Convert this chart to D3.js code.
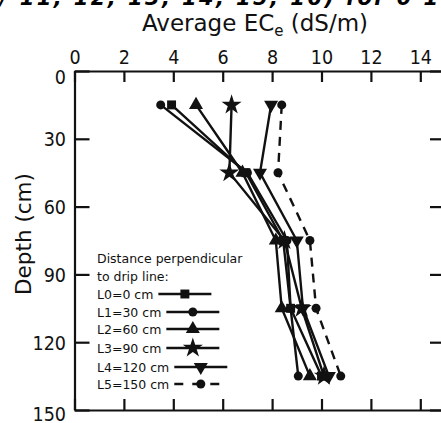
<!DOCTYPE html>
<html>
<head>
<meta charset="utf-8">
<script src="https://cdn.jsdelivr.net/npm/d3@7"></script>
<style>
  body { margin: 0; background: #fff; }
  svg { display: block; }
  .lab { font-family: "DejaVu Sans Condensed", "DejaVu Sans", sans-serif; fill: #111; }
  .leg { font-family: "DejaVu Sans", sans-serif; fill: #111; font-size: 12.5px; }
</style>
</head>
<body>
<script>
// chart data
const depths = [15, 45, 75, 105, 135];
const seriesNames = ["L0=0 cm", "L1=30 cm", "L2=60 cm", "L3=90 cm", "L4=120 cm", "L5=150 cm"];
const L0 = [3.93, 6.94, 8.45, 8.75, 10.0];
const L1 = [3.49, 7.0, 8.6, 8.75, 9.06];
const L2 = [4.92, 6.8, 8.15, 8.39, 9.53];
const L3 = [6.36, 6.27, 8.5, 9.2, 10.1];
const L4 = [7.96, 7.51, 9.0, 9.25, 10.3];
const L5 = [8.39, 8.24, 9.53, 9.78, 10.78];
const xTicks = [0, 2, 4, 6, 8, 10, 12, 14];
const yTicks = [0, 30, 60, 90, 120, 150];

const width = 441;
const height = 423;
const margin = { top: 71, left: 74.5 };
const innerWidth = 370.5;
const innerHeight = 339;

const svg = d3.select("body").append("svg")
  .attr("width", width)
  .attr("height", height);

// cut-off heading from the page above
svg.append("text")
  .attr("x", 0)
  .attr("y", 4.5)
  .attr("textLength", 438)
  .style("font-family", "DejaVu Sans, sans-serif")
  .style("font-size", "21px")
  .style("font-weight", "bold")
  .style("font-style", "italic")
  .text("/ 11, 12, 13, 14, 15, 16) for 0 1");

const g = svg.append("g")
  .attr("transform", `translate(${margin.left},${margin.top})`);

const x = d3.scaleLinear().domain([0, 15]).range([0, innerWidth]);
const y = d3.scaleLinear().domain([0, 150]).range([0, innerHeight]);

// axes
const topAxis = g.append("g")
  .call(d3.axisTop(x).tickValues(xTicks).tickSizeInner(-11).tickSizeOuter(0).tickPadding(7));
const bottomAxis = g.append("g")
  .attr("transform", `translate(0,${innerHeight})`)
  .call(d3.axisBottom(x).tickValues(xTicks).tickSizeInner(-11).tickSizeOuter(0).tickFormat(""));
const leftAxis = g.append("g")
  .call(d3.axisLeft(y).tickValues(yTicks).tickSizeInner(-15).tickSizeOuter(0).tickPadding(8.5));
const rightAxis = g.append("g")
  .attr("transform", `translate(${innerWidth},0)`)
  .call(d3.axisRight(y).tickValues(yTicks).tickSizeInner(-15).tickSizeOuter(0).tickFormat(""));

[topAxis, bottomAxis, leftAxis, rightAxis].forEach((a) => {
  a.selectAll(".domain").attr("stroke", "#111").attr("stroke-width", 2.2);
  a.selectAll(".tick line").attr("stroke", "#111").attr("stroke-width", 2.2);
  a.selectAll(".tick text")
    .attr("class", "lab")
    .style("font-size", "19.5px")
    .attr("fill", "#111");
});
leftAxis.selectAll(".tick text")
  .attr("dy", "0.36em")
  .attr("y", (d) => (d === 0 ? 5 : d === 150 ? 3 : 0));

// axis titles
const title = svg.append("text")
  .attr("class", "leg")
  .attr("x", 255)
  .attr("y", 31)
  .attr("text-anchor", "middle")
  .style("font-size", "23px");
title.append("tspan").text("Average EC");
title.append("tspan").attr("dy", 5).style("font-size", "15px").text("e");
title.append("tspan").attr("dy", -5).text(" (dS/m)");

svg.append("text")
  .attr("class", "leg")
  .attr("transform", "translate(31,234) rotate(-90)")
  .attr("text-anchor", "middle")
  .style("font-size", "21.5px")
  .text("Depth (cm)");

// series
const allSeries = [L0, L1, L2, L3, L4, L5];
const symbols = [
  { type: d3.symbolSquare, size: 80, rot: 0 },
  { type: d3.symbolCircle, size: 64, rot: 0 },
  { type: d3.symbolTriangle, size: 85, rot: 0 },
  { type: d3.symbolStar, size: 125, rot: 0 },
  { type: d3.symbolTriangle, size: 85, rot: 180 },
  { type: d3.symbolCircle, size: 64, rot: 0 }
];

const line = d3.line()
  .x((d) => x(d.v))
  .y((d) => y(d.depth));

allSeries.forEach((vals, i) => {
  const pts = vals.map((v, j) => ({ v: v, depth: depths[j] }));
  g.append("path")
    .datum(pts)
    .attr("d", line)
    .attr("fill", "none")
    .attr("stroke", "#111")
    .attr("stroke-width", 2.4)
    .attr("stroke-dasharray", i === 5 ? "9,7" : null);
  g.selectAll(".m" + i)
    .data(pts)
    .enter()
    .append("path")
    .attr("class", "m" + i)
    .attr("d", d3.symbol().type(symbols[i].type).size(symbols[i].size))
    .attr("transform", (d) => `translate(${x(d.v)},${y(d.depth)}) rotate(${symbols[i].rot})`)
    .attr("fill", "#111");
});

// legend
const legend = svg.append("g").attr("transform", "translate(97,0)");
legend.append("text").attr("class", "leg").attr("y", 263).text("Distance perpendicular");
legend.append("text").attr("class", "leg").attr("y", 281).text("to drip line:");
const rowY = [294, 312, 329, 348, 367, 384];
seriesNames.forEach((name, i) => {
  const t = legend.append("text")
    .attr("class", "leg")
    .attr("y", rowY[i] + 4.5)
    .text(name);
  const w = t.node().getComputedTextLength();
  const x0 = w + 5;
  const x1 = x0 + 53;
  legend.append("line")
    .attr("x1", x0).attr("x2", x1)
    .attr("y1", rowY[i]).attr("y2", rowY[i])
    .attr("stroke", "#111")
    .attr("stroke-width", 2.4)
    .attr("stroke-dasharray", i === 5 ? "9,9" : null);
  legend.append("path")
    .attr("d", d3.symbol().type(symbols[i].type).size(symbols[i].size))
    .attr("transform", `translate(${(x0 + x1) / 2},${rowY[i]}) rotate(${symbols[i].rot})`)
    .attr("fill", "#111");
});
</script>
</body>
</html>
